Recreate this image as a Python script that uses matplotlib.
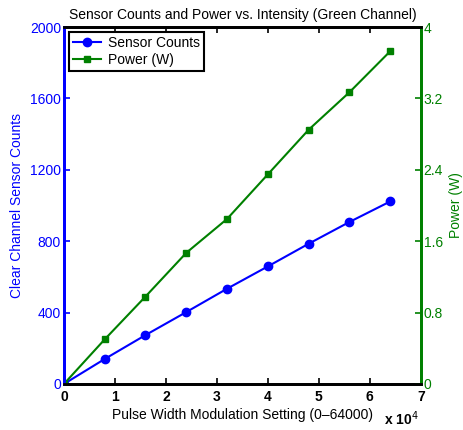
import matplotlib
matplotlib.use("Agg")
import matplotlib.pyplot as plt

plt.rcParams["font.family"] = ["Liberation Sans", "DejaVu Sans"]

pwm = [0, 8000, 16000, 24000, 32000, 40000, 48000, 56000, 64000]
counts = [0, 140, 274, 403, 534, 659, 786, 908, 1023]
power = [0, 0.50, 0.98, 1.47, 1.85, 2.35, 2.85, 3.27, 3.73]

x_ticks = [0, 10000, 20000, 30000, 40000, 50000, 60000, 70000]
x_labels = ["0", "1", "2", "3", "4", "5", "6", "7"]
left_ticks = [0, 400, 800, 1200, 1600, 2000]
right_ticks = [0, 0.8, 1.6, 2.4, 3.2, 4]
right_labels = ["0", "0.8", "1.6", "2.4", "3.2", "4"]

blue = "#0000ff"
green = "#008000"

fig = plt.figure(figsize=(4.63, 4.30), dpi=100)
ax = fig.add_axes([0.138, 0.107, 0.771, 0.830])
ax2 = ax.twinx()

l1, = ax.plot(pwm, counts, color=blue, lw=1.5, marker="o", ms=6, label="Sensor Counts")
l2, = ax2.plot(pwm, power, color=green, lw=1.5, marker="s", ms=5, label="Power (W)")

ax.set_xlim(0, 70000)
ax.set_ylim(0, 2000)
ax2.set_ylim(0, 4)
ax.set_xticks(x_ticks)
ax.set_xticklabels(x_labels, fontweight="bold")
ax.set_yticks(left_ticks)
ax2.set_yticks(right_ticks)
ax2.set_yticklabels(right_labels)

ax.tick_params(axis="x", direction="in", top=True, length=4, width=1.2, labelsize=10, pad=4)
ax.tick_params(axis="y", direction="in", colors=blue, length=4, width=1.2, labelsize=10, pad=2)
ax2.tick_params(axis="y", direction="in", colors=green, length=4, width=1.2, labelsize=10, pad=2)

for a in (ax, ax2):
    for s in a.spines.values():
        s.set_linewidth(2)
ax.spines["left"].set_color(blue)
ax2.spines["left"].set_color(blue)
ax2.spines["right"].set_color(green)
ax.spines["right"].set_color(green)

ax.set_ylabel("Clear Channel Sensor Counts", color=blue, fontsize=10, labelpad=4)
ax2.set_ylabel("Power (W)", color=green, fontsize=10, labelpad=4)
ax.set_xlabel("Pulse Width Modulation Setting (0\u201364000)", fontsize=10, labelpad=3)
ax.set_title("Sensor Counts and Power vs. Intensity (Green Channel)", fontsize=10, pad=6)

ax.text(0.995, -0.072, "x 10$^{4}$", transform=ax.transAxes, ha="right", va="top",
        fontsize=10, fontweight="bold")

leg = ax.legend(handles=[l1, l2], loc="upper left", fancybox=False, framealpha=1,
                edgecolor="black", fontsize=10, borderaxespad=0.35, handlelength=2.0,
                handletextpad=0.5, borderpad=0.3, labelspacing=0.2)
leg.get_frame().set_linewidth(1.5)

fig.savefig("out.png", dpi=100)
